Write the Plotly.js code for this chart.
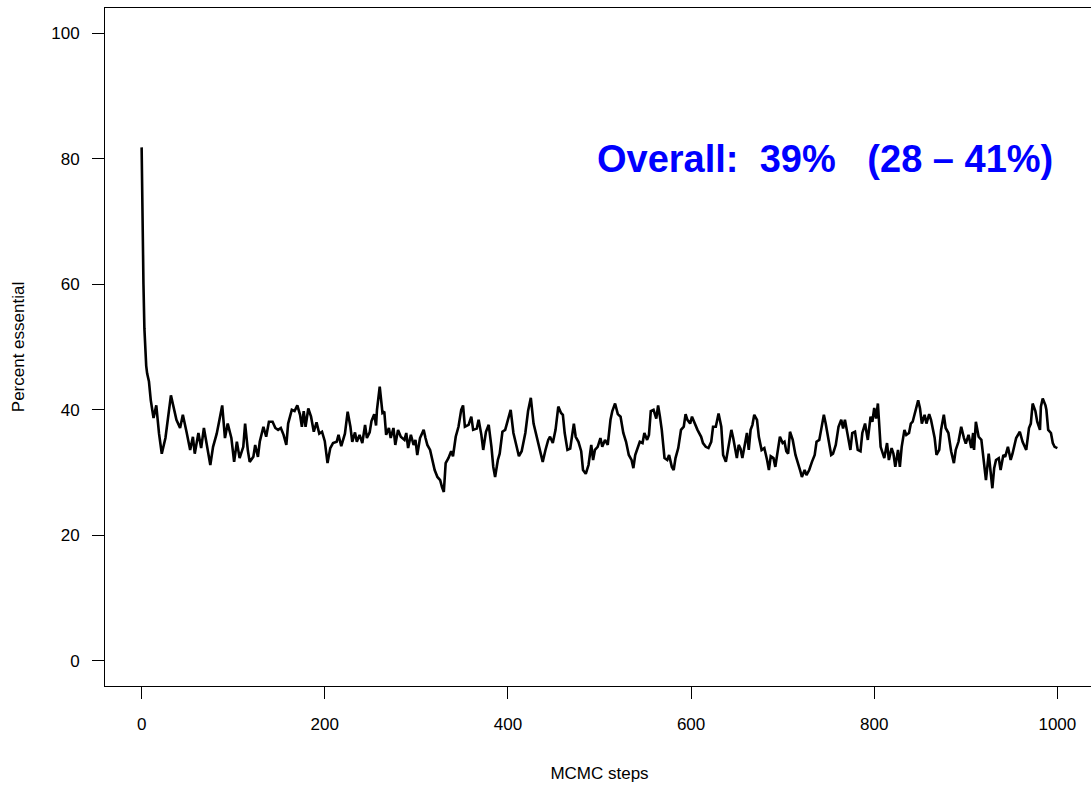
<!DOCTYPE html>
<html>
<head>
<meta charset="utf-8">
<script src="https://cdn.plot.ly/plotly-3.0.1.min.js"></script>
<style>
html,body{margin:0;padding:0;overflow:hidden;background:#fff;}
#chart{width:1094px;height:787px;}
</style>
</head>
<body>
<div id="chart"></div>
<script>
const steps = [0,1,2,3,4,5,6,7,8,10,13,16,19,22,26,32,38,42,45,49,53,56,58,62,65,68,71,75,78,82,85,88,91,94,98,101,104,107,111,113,116,118,122,124,127,129,133,136,139,143,146,149,152,155,158,160,164,167,170,173,175,177,179,182,185,188,191,194,197,200,203,206,209,213,215,218,222,225,228,230,233,235,238,241,244,246,249,251,254,256,257,260,263,265,267,270,272,275,277,280,283,287,289,291,294,297,299,301,304,308,310,312,315,317,320,323,326,328,330,332,335,338,340,343,346,349,351,353,357,360,362,366,368,371,373,376,379,382,384,386,389,391,394,397,400,403,406,409,412,415,419,422,425,428,432,435,438,441,444,446,449,452,455,458,460,462,465,468,472,474,477,480,482,485,488,491,493,495,498,501,503,506,509,512,514,517,520,523,526,529,532,535,537,539,542,544,547,549,552,554,556,559,562,564,566,568,571,574,576,579,581,583,586,589,592,594,596,599,601,604,607,611,613,616,619,622,624,627,630,633,635,638,641,644,646,648,650,652,654,656,659,661,663,665,667,669,672,674,677,680,683,685,687,690,692,695,697,700,702,704,706,708,711,714,717,719,721,724,726,729,732,735,737,740,742,745,747,750,753,755,758,761,764,766,768,771,774,776,779,782,785,787,790,793,796,798,800,802,804,807,809,811,814,816,819,821,823,826,828,830,833,835,838,840,842,845,848,850,852,855,857,860,862,866,868,871,873,876,878,881,884,887,889,892,895,898,900,903,906,908,909,911,914,917,920,922,925,927,929,931,933,936,938,941,943,946,949,951,955,959,962,966,969,971,973,976,978,981,982,984,987,988,990,993,995,997,1000];
const pct = [81.8,68,60,53,49,47,45.8,45,44.5,41.5,38.7,40.7,36.2,33.0,35.5,42.3,38.4,37.1,39.2,36.5,33.6,35.7,33,36.3,33.9,37.1,34.7,31.2,34.1,36.2,38.4,40.7,35.5,37.8,35.5,31.7,34.9,32.3,34.1,37.8,33.5,31.7,32.5,34.4,32.5,34.9,37.3,35.7,38.1,38.1,37.1,36.8,37.1,36,34.4,37.8,40,39.8,40.7,39.2,37.3,39.8,37.3,40.2,38.9,36.5,38,36.2,36.5,35,31.5,33.9,34.7,34.9,36,34.2,36.2,39.7,37.3,34.9,36.4,34.9,36,34.7,37.6,35.5,36.4,38.2,39.3,37.5,40,43.7,39.5,39.7,36,37.1,35.5,37.1,34.4,36.8,35.7,35.2,36.3,33.9,36,34.4,35.2,32.8,35.5,36.8,35.5,34.4,33.6,32.3,30.4,29.3,28.8,27.7,26.9,31.5,32.3,33.4,32.6,35.7,37.3,40,40.7,37.3,37.6,38.9,36.8,37.0,38.4,36,33.6,36.5,37.6,34.1,30.9,29.3,32,33,36.5,36.8,38.4,40,36.3,34.4,32.6,33.4,36.3,39.8,41.9,37.8,35.2,33.6,31.7,33.6,35.2,35.7,34.7,36.8,40.5,39.5,39.2,36.3,33.6,33.8,37.8,35.7,34.9,33.4,30.4,29.8,31.2,34.4,32,33.6,34.1,35.5,34.1,35.2,34.4,38.4,39.8,41,39.3,38.9,36.3,34.9,32.8,32,30.7,32.8,34.1,34.9,34.7,36.3,35.2,36,39.8,40,38.6,40.7,38.9,36.8,32.3,32,32.8,30.9,30.4,32.3,33.9,36.8,37.3,39.3,38.4,37.8,38.9,37.8,36.8,35.7,34.7,34.1,33.9,34.9,37.3,37.3,39.4,37.3,32.8,31.7,34.4,36.8,35.5,34.1,32.3,34.4,33.8,32.3,34.9,36.3,33.6,36.8,37.6,39.2,38.4,35.7,33.6,33.9,32,30.4,32.6,32.3,30.9,33.4,35.7,34.7,34.9,33.4,33.0,36.5,35.2,32.8,31.5,30.4,29.3,30.4,29.6,30.4,31.7,32.8,34.9,35.2,36.8,39.2,37.8,35.5,32.8,33,34.4,37.3,38.4,37.0,38.4,36,33.6,36.3,36.5,33.6,33.4,36.3,37.8,35.2,38.9,38.1,40.3,38.6,41,34.1,33,32.3,34.7,32,33.9,33,30.9,33.6,30.9,34.1,36.8,36.0,36.3,37.8,38.1,39.8,41.5,40.2,37.8,39.2,37.8,39.3,38.4,35.5,32.8,33.6,36.8,39.2,37.1,36.3,33.4,31.5,33.6,34.9,37.3,35.5,34.6,36,33.9,36.3,33.6,38.1,35.7,35.2,31.5,28.8,33,29.8,27.5,30.7,32,32.3,30.4,32.8,32.5,34.1,32,33,35.5,36.5,34.9,33.6,37.1,37.8,41,39.8,38.1,36.8,40.5,41.8,40.7,40,36.8,36.3,34.7,34.1,33.9];
const xTicks = [0,200,400,600,800,1000];
const yTicks = [0,20,40,60,80,100];
const xLabel = "MCMC steps";
const yLabel = "Percent essential";
const note = "Overall:  39%   (28 – 41%)";

const fontFam = "Liberation Sans, Arial, Helvetica, sans-serif";

const trace = {
  x: steps, y: pct, type: 'scatter', mode: 'lines',
  line: {color: '#000000', width: 2.6}, hoverinfo: 'skip'
};

const axisCommon = {
  showgrid: false, zeroline: false, showline: true, mirror: true,
  linecolor: '#000', linewidth: 1, ticks: 'outside', ticklen: 12,
  tickcolor: '#000', tickwidth: 1, tickmode: 'array',
  tickfont: {family: fontFam, size: 17, color: '#000'}, automargin: false
};

const layout = {
  width: 1094, height: 787,
  margin: {l: 105, r: 0, t: 8, b: 101},
  paper_bgcolor: '#fff', plot_bgcolor: '#fff',
  showlegend: false,
  xaxis: Object.assign({}, axisCommon, {
    range: [-40, 1040], tickvals: xTicks, ticktext: xTicks.map(String),
    ticklabelstandoff: 11,
    title: {text: xLabel, font: {family: fontFam, size: 17, color: '#000'}, standoff: 33}
  }),
  yaxis: Object.assign({}, axisCommon, {
    range: [-4, 104], tickvals: yTicks, ticktext: yTicks.map(String),
    tickangle: 0, ticklabelstandoff: 9,
    title: {text: yLabel, font: {family: fontFam, size: 17, color: '#000'}, standoff: 22}
  }),
  annotations: [{
    x: 997, y: 80, xref: 'x', yref: 'y', xanchor: 'right', yanchor: 'middle',
    text: '<b>' + note + '</b>', showarrow: false,
    font: {family: fontFam, size: 38, color: '#0000FF'}
  }]
};

Plotly.newPlot('chart', [trace], layout, {displayModeBar: false, staticPlot: true});
</script>
</body>
</html>
